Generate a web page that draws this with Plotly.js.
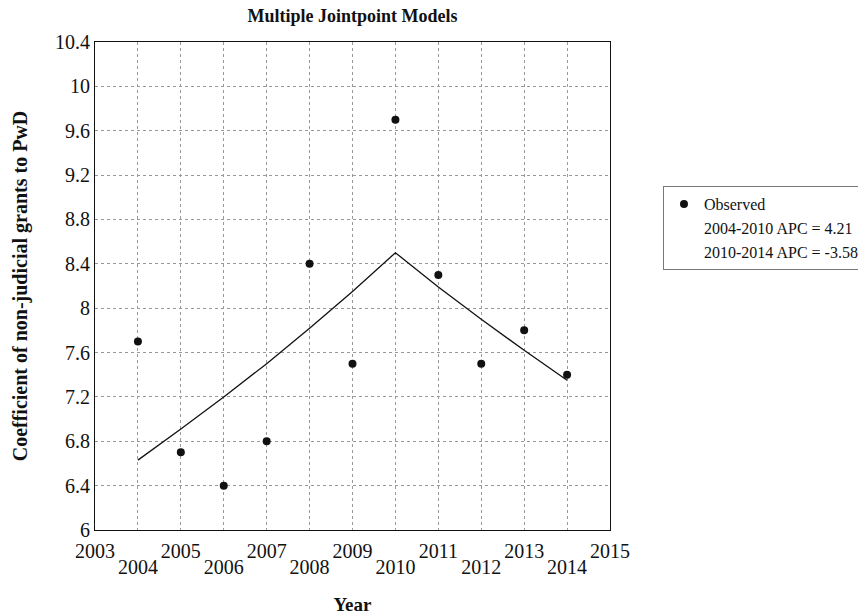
<!DOCTYPE html>
<html>
<head>
<meta charset="utf-8">
<script src="https://cdn.plot.ly/plotly-3.0.1.min.js"></script>
<style>html,body{margin:0;padding:0;background:#fff;}#chart{width:858px;height:616px;}</style>
</head>
<body>
<div id="chart"></div>
<script>
var years = [2004, 2005, 2006, 2007, 2008, 2009, 2010, 2011, 2012, 2013, 2014];
var observed = [7.7, 6.7, 6.4, 6.8, 8.4, 7.5, 9.7, 8.3, 7.5, 7.8, 7.4];
var modelYears = [2004, 2005, 2006, 2007, 2008, 2009, 2010, 2011, 2012, 2013, 2014];
var modelValues = [6.63, 6.91, 7.2, 7.5, 7.82, 8.15, 8.5, 8.19, 7.9, 7.62, 7.35];
var segmentLabels = ["2004-2010 APC = 4.21", "2010-2014 APC = -3.58"];
var oddTicks = [2003, 2005, 2007, 2009, 2011, 2013, 2015];
var evenTicks = [2004, 2006, 2008, 2010, 2012, 2014];
var yTickVals = [6, 6.4, 6.8, 7.2, 7.6, 8, 8.4, 8.8, 9.2, 9.6, 10, 10.4];

var serif = "Liberation Serif, DejaVu Serif, serif";

var traces = [
  {x: years, y: observed, mode: "markers", name: "Observed",
   marker: {color: "#111", size: 8}, showlegend: true},
  {x: modelYears, y: modelValues, mode: "lines", name: "model",
   line: {color: "#111", width: 1.3}, showlegend: false, hoverinfo: "skip"},
  {x: [2010], y: [8.5], mode: "lines", name: segmentLabels[0], line: {width: 0, color: "rgba(0,0,0,0)"}, showlegend: true},
  {x: [2010], y: [8.5], mode: "lines", name: segmentLabels[1], line: {width: 0, color: "rgba(0,0,0,0)"}, showlegend: true},
  {x: evenTicks, y: evenTicks.map(function(){return null;}), xaxis: "x2", mode: "markers", showlegend: false, hoverinfo: "skip"}
];

var gridStyle = {showgrid: true, gridcolor: "#999", griddash: "dot", gridwidth: 1};

var layout = {
  width: 858, height: 616,
  margin: {l: 95, r: 248, t: 42, b: 86},
  paper_bgcolor: "#fff", plot_bgcolor: "#fff",
  font: {family: serif, color: "#111"},
  title: {text: "<b>Multiple Jointpoint Models</b>", font: {size: 18, family: serif}, x: 0.5, xref: "paper", y: 0.985, yanchor: "top"},
  xaxis: Object.assign({
    range: [2003, 2015], tickmode: "array", tickvals: oddTicks,
    showline: true, linecolor: "#111", linewidth: 1, mirror: true, ticks: "",
    ticklabelstandoff: 3,
    zeroline: false, tickfont: {size: 20, family: serif},
    title: {text: "<b>Year</b>", font: {size: 19, family: serif}, standoff: 36}
  }, gridStyle),
  xaxis2: Object.assign({
    range: [2003, 2015], overlaying: "x", matches: "x", side: "bottom", anchor: "y",
    tickmode: "array", tickvals: evenTicks, ticks: "", ticklabelstandoff: 23,
    zeroline: false, showline: false, tickfont: {size: 20, family: serif}
  }, gridStyle),
  yaxis: Object.assign({
    range: [6, 10.4], tickmode: "array", tickvals: yTickVals,
    showline: true, linecolor: "#111", linewidth: 1, mirror: true, ticks: "",
    zeroline: false, tickfont: {size: 20, family: serif},
    title: {text: "<b>Coefficient of non-judicial grants to PwD</b>", font: {size: 20, family: serif}, standoff: 22}
  }, gridStyle),
  legend: {xref: "container", yref: "container", x: 0.7727, xanchor: "left", y: 0.698, yanchor: "top",
    bordercolor: "#777", borderwidth: 1, bgcolor: "#fff",
    font: {size: 16, family: serif}, tracegroupgap: 0},
  showlegend: true
};

Plotly.newPlot("chart", traces, layout, {displayModeBar: false, staticPlot: true});
</script>
</body>
</html>
